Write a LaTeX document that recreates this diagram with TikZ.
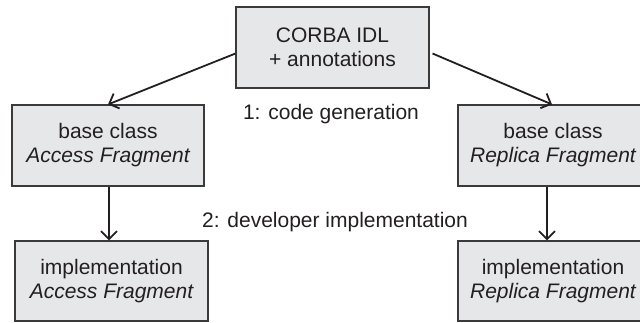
\documentclass[tikz,border=0pt]{standalone}
\usepackage{fontspec}
\setmainfont{Liberation Sans}
\usetikzlibrary{arrows.meta}
\definecolor{boxfill}{HTML}{E6E7E8}
\definecolor{boxline}{HTML}{3A3A3A}
\definecolor{ink}{HTML}{231F20}
\begin{document}
\begin{tikzpicture}[x=1pt,y=-1pt,
  font=\fontsize{21}{24}\selectfont,
  every node/.style={text=ink},
  box/.style={draw=boxline, line width=1.1pt, fill=boxfill, align=center,
    inner sep=0pt, minimum width=193pt, minimum height=81pt},
  flow/.style={draw=ink, line width=1.8pt, -{Straight Barb[length=8pt,width=16pt,line width=1.8pt]}},
  lbl/.style={inner sep=0pt}]
\useasboundingbox (0,0) rectangle (640,322);
\clip (0,0) rectangle (640,322);
\node[box] (top) at (332.5,47.5) {CORBA IDL\\+ annotations};
\node[box, minimum width=192pt] (lb) at (108,145.5) {base class\\\itshape Access Fragment};
\node[box, minimum height=80pt] (li) at (111.5,281) {implementation\\\itshape Access Fragment};
\node[box, minimum width=190pt] (rb) at (553,145.5) {base class\\\itshape Replica Fragment};
\node[box, minimum width=190pt, minimum height=80pt] (ri) at (553,281) {implementation\\\itshape Replica Fragment};
\node[lbl] (l1) at (331,114) {1: code generation};
\node[lbl] (l2) at (335,222) {2: developer implementation};
\draw[flow] ([yshift=-6pt]top.west) -- (lb.north);
\draw[flow] ([xshift=3pt,yshift=-6pt]top.east) -- ([xshift=-1pt]rb.north);
\draw[flow] ([xshift=1pt]lb.south) -- ([xshift=1pt]lb.south |- li.north);
\draw[flow] ([xshift=-6pt]rb.south) -- ([xshift=-6pt]rb.south |- ri.north);
\end{tikzpicture}
\end{document}
